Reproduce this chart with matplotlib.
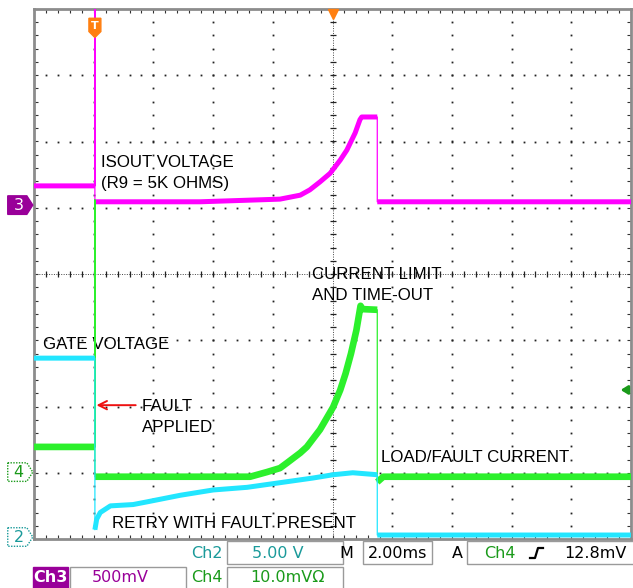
import numpy as np
import matplotlib
matplotlib.use("Agg")
import matplotlib.pyplot as plt
from matplotlib.patches import Polygon, Rectangle
from matplotlib.lines import Line2D

# traces, in screen divisions (10 x 8)
ch3_x = [0, 1.02, 1.02, 1.02, 2.78, 3.79, 4.12, 4.46, 4.62, 4.79, 4.96, 5.13, 5.24, 5.38, 5.46, 5.49, 5.75, 5.75, 10]
ch3_y = [5.33, 5.33, 8.0, 5.09, 5.09, 5.12, 5.13, 5.19, 5.27, 5.39, 5.52, 5.72, 5.87, 6.13, 6.33, 6.37, 6.37, 5.09, 5.09]

ch4_x = [0, 1.02, 1.02, 1.02, 3.62, 3.90, 4.12, 4.24, 4.46, 4.57, 4.79, 5.01, 5.13, 5.22, 5.31, 5.40, 5.47, 5.50, 5.75, 5.75, 5.85, 10]
ch4_y = [1.39, 1.39, 5.12, 0.94, 0.94, 1.01, 1.07, 1.15, 1.30, 1.39, 1.65, 1.99, 2.25, 2.50, 2.80, 3.15, 3.52, 3.47, 3.46, 0.86, 0.94, 0.94]

ch2_x = [0, 1.02, 1.02, 1.05, 1.11, 1.28, 1.66, 1.89, 2.45, 3.0, 3.57, 4.12, 4.67, 5.01, 5.34, 5.75, 5.75, 10]
ch2_y = [2.73, 2.73, 0.14, 0.30, 0.40, 0.50, 0.52, 0.56, 0.66, 0.74, 0.78, 0.85, 0.92, 0.97, 1.0, 0.97, 0.06, 0.06]

notes = [
    ("ISOUT VOLTAGE", 1.13, 5.62),
    ("(R9 = 5K OHMS)", 1.13, 5.30),
    ("GATE VOLTAGE", 0.15, 2.87),
    ("CURRENT LIMIT", 4.66, 3.92),
    ("AND TIME-OUT", 4.66, 3.61),
    ("FAULT", 1.81, 1.93),
    ("APPLIED", 1.81, 1.62),
    ("LOAD/FAULT CURRENT", 5.81, 1.16),
    ("RETRY WITH FAULT PRESENT", 1.31, 0.17),
]

MAGENTA = "#ff00ff"
GREEN = "#2cf02c"
CYAN = "#22e6ff"


def thick_parts(x, y):
    # break the line at the vertical jumps so those stay thin
    xs, ys = [], []
    for i in range(len(x)):
        if i > 0 and x[i] == x[i - 1]:
            xs.append(np.nan)
            ys.append(np.nan)
        xs.append(x[i])
        ys.append(y[i])
    return xs, ys


W, H = 633, 588
fig = plt.figure(figsize=(W / 100, H / 100), dpi=100)
ax = fig.add_axes([34 / W, 1 - 539 / H, 597 / W, 530 / H])
ax.set_xlim(0, 10)
ax.set_ylim(0, 8)
ax.set_xticks([])
ax.set_yticks([])
for s in ax.spines.values():
    s.set_color("#8c8c8c")
    s.set_linewidth(2)

# dotted graticule
dot = dict(ls="none", marker="s", ms=1.3, color="#222222", mew=0)
for gx in range(1, 10):
    if gx == 5:
        continue
    yy = np.arange(0.2, 8, 0.2)
    ax.plot([gx] * len(yy), yy, **dot)
for gy in range(1, 8):
    if gy == 4:
        continue
    xx = np.arange(0.2, 10, 0.2)
    ax.plot(xx, [gy] * len(xx), **dot)

# centre lines with ticks
ax.plot([0, 10], [4, 4], ls=(0, (1, 1.5)), lw=0.7, color="#444444")
ax.plot([5, 5], [0, 8], ls=(0, (1, 1.5)), lw=0.7, color="#444444")
tx = np.arange(0.2, 10, 0.2)
ax.plot(tx, [4] * len(tx), ls="none", marker="|", ms=5, mew=0.9, color="#222222")
ty = np.arange(0.2, 8, 0.2)
ax.plot([5] * len(ty), ty, ls="none", marker="_", ms=5, mew=0.9, color="#222222")
# border ticks
ax.plot([0.03] * len(ty), ty, ls="none", marker="_", ms=3, mew=0.8, color="#333333")
ax.plot([9.97] * len(ty), ty, ls="none", marker="_", ms=3, mew=0.8, color="#333333")
ax.plot(tx, [7.97] * len(tx), ls="none", marker="|", ms=3, mew=0.8, color="#333333")
ax.plot(tx, [0.03] * len(tx), ls="none", marker="|", ms=3, mew=0.8, color="#333333")

# annotations
for txt, x, y in notes:
    ax.text(x, y, txt, fontsize=12.2, family="Liberation Sans", color="black",
            va="baseline", ha="left", zorder=2)
ax.annotate("", xy=(1.0, 2.02), xytext=(1.75, 2.02), zorder=6,
            arrowprops=dict(arrowstyle="->,head_length=0.6,head_width=0.3", color="#ee1111", lw=1.4))

# traces
for x, y, c, lw in [(ch3_x, ch3_y, MAGENTA, 3.6), (ch4_x, ch4_y, GREEN, 4.8), (ch2_x, ch2_y, CYAN, 3.6)]:
    ax.plot(x, y, color=c, lw=0.9, zorder=4)
    xs, ys = thick_parts(x, y)
    ax.plot(xs, ys, color=c, lw=lw, zorder=4, solid_capstyle="butt", solid_joinstyle="round")

# trigger markers
ax.plot([5.0], [7.93], marker="v", ms=7, color="#ff7f10", clip_on=False, zorder=7)
ax.add_patch(Polygon([[0.92, 7.86], [1.12, 7.86], [1.12, 7.66], [1.02, 7.57], [0.92, 7.66]],
                     closed=True, fc="#ff7f10", ec="#ff7f10", zorder=7))
ax.text(1.02, 7.74, "T", color="white", fontsize=8, fontweight="bold", ha="center", va="center", zorder=8)
ax.annotate("", xy=(9.78, 2.25), xytext=(10.0, 2.25), annotation_clip=False, zorder=7,
            arrowprops=dict(arrowstyle="-|>,head_length=0.4,head_width=0.25", color="#1a9a1a", lw=2))

# channel markers on the left
def ch_marker(y, label, fc, ec, tc):
    pts = [[-0.44, y + 0.14], [-0.12, y + 0.14], [-0.02, y], [-0.12, y - 0.14], [-0.44, y - 0.14]]
    ax.add_patch(Polygon(pts, closed=True, fc=fc, ec=ec, lw=1, ls=(0, (1, 1)) if fc == "white" else "-",
                         clip_on=False, zorder=7))
    ax.text(-0.26, y, label, color=tc, fontsize=11.5, ha="center", va="center",
            clip_on=False, zorder=8)

ch_marker(5.04, "3", "#990099", "#990099", "white")
ch_marker(1.01, "4", "white", "#1a9a1a", "#1a9a1a")
ch_marker(0.03, "2", "white", "#1a9a9a", "#1a9a9a")

# status bar
def fx(px):
    return px / W


def fy(py):
    return 1 - py / H


def box(x0, x1, y0, y1, fc="none", ec="#9a9a9a"):
    fig.patches.append(Rectangle((fx(x0), fy(y1)), fx(x1) - fx(x0), fy(y0) - fy(y1),
                                 transform=fig.transFigure, fc=fc, ec=ec, lw=1))


TEAL = "#1a9a9a"
DKGREEN = "#1a9a1a"
PURPLE = "#990099"
sfont = dict(fontsize=11.5, family="DejaVu Sans", va="center")

box(227, 343, 541, 564)
box(363, 432, 541, 564)
box(467, 640, 541, 564)
box(33, 68, 567, 592, fc=PURPLE, ec=PURPLE)
box(70, 186, 567, 592)
box(227, 343, 567, 592)

fig.text(fx(207), fy(553), "Ch2", color=TEAL, ha="center", **sfont)
fig.text(fx(278), fy(553), "5.00 V", color=TEAL, ha="center", **sfont)
fig.text(fx(346), fy(553), "M", color="black", ha="center", **sfont)
fig.text(fx(398), fy(553), "2.00ms", color="black", ha="center", **sfont)
fig.text(fx(457), fy(553), "A", color="black", ha="center", **sfont)
fig.text(fx(500), fy(553), "Ch4", color=DKGREEN, ha="center", **sfont)
fig.text(fx(595), fy(553), "12.8mV", color="black", ha="center", **sfont)
fig.lines.append(Line2D([fx(530), fx(535), fx(538), fx(543)], [fy(558), fy(558), fy(548), fy(548)],
                        transform=fig.transFigure, color="black", lw=1.6))

fig.text(fx(50), fy(578), "Ch3", color="white", ha="center", fontweight="bold", **sfont)
fig.text(fx(120), fy(578), "500mV", color=PURPLE, ha="center", **sfont)
fig.text(fx(207), fy(578), "Ch4", color=DKGREEN, ha="center", **sfont)
fig.text(fx(287), fy(578), "10.0mV\u03a9", color=DKGREEN, ha="center", **sfont)

fig.savefig("out.png", dpi=100, facecolor="white")
